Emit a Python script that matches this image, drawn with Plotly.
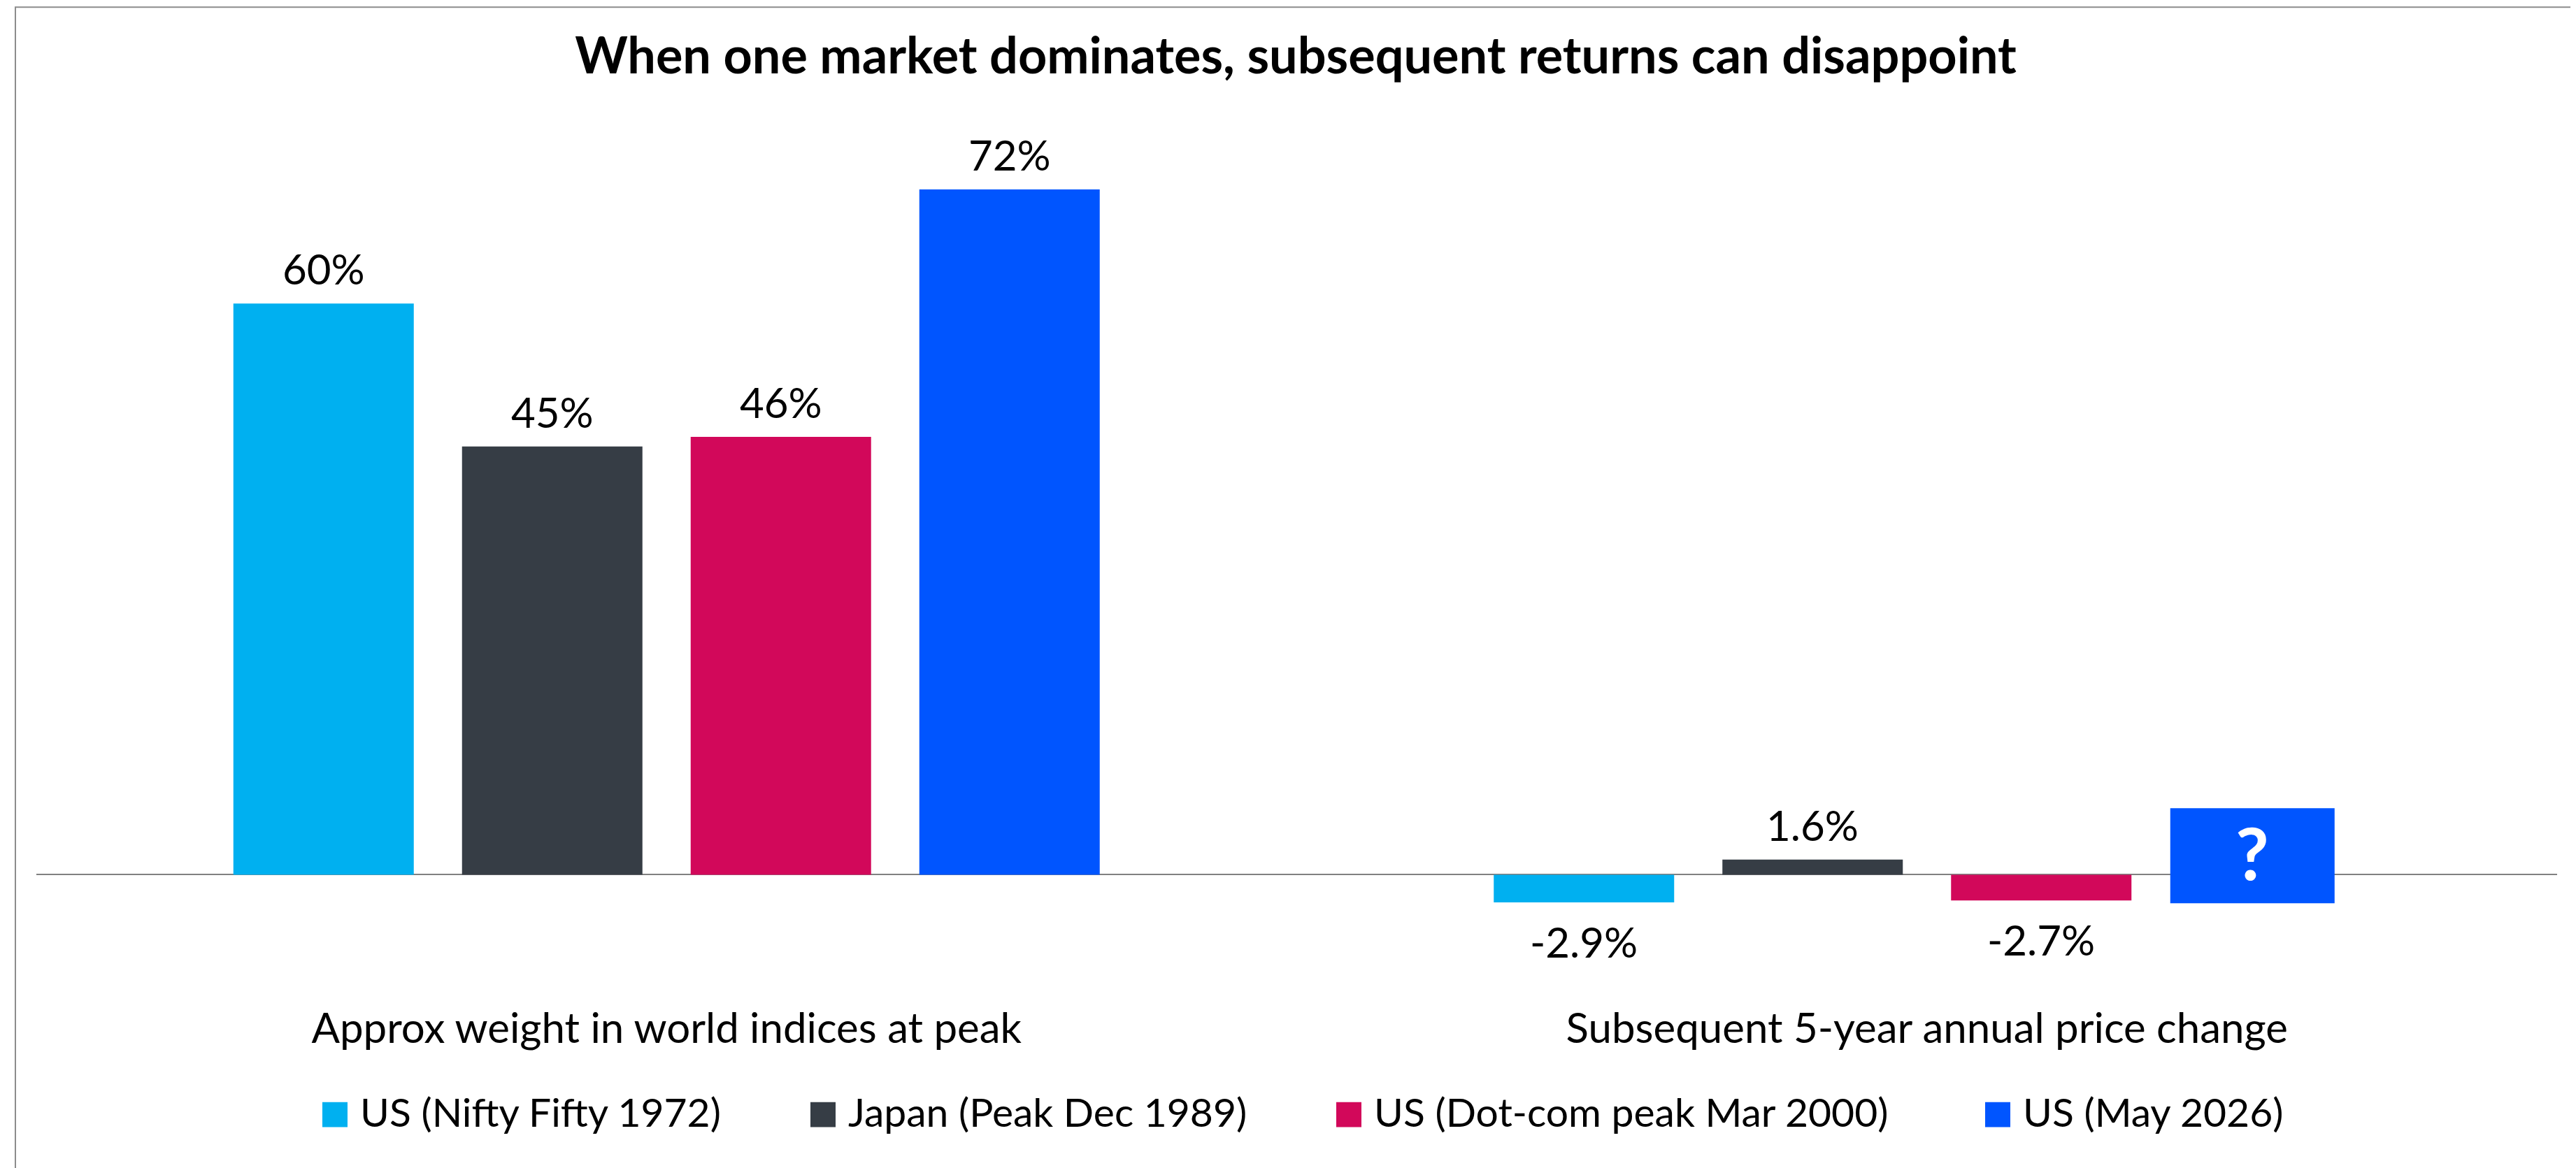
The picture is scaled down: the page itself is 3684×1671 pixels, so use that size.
import plotly.graph_objects as go

# ---- data ----
groups = ["Approx weight in world indices at peak", "Subsequent 5-year annual price change"]
series = ["US (Nifty Fifty 1972)", "Japan (Peak Dec 1989)", "US (Dot-com peak Mar 2000)", "US (May 2026)"]
colors = ["#00B0F0", "#363D45", "#D2085A", "#0055FF"]
weight_at_peak = [60, 45, 46, 72]
subsequent_change = [-2.9, 1.6, -2.7, None]
# the "?" placeholder box for the unknown US (May 2026) outcome
unknown_low = -3.0
unknown_high = 7.0

W, H = 3684, 1671
OFF = 8  # page body margin, figure starts 8px in
FONT = "Lato, 'Open Sans', sans-serif"

# plot-area geometry (page pixels)
L, R = 52, 3657
Y_MIN, Y_MAX = -12.3, 80
PX_PER_UNIT = 13.625
ZERO_PX = 1251.7
TOP = ZERO_PX - Y_MAX * PX_PER_UNIT
BOTTOM = ZERO_PX - Y_MIN * PX_PER_UNIT

slot = 327 / 1802.5
bar_w = 258 / 1802.5
q_w = 235 / 1802.5
q_center = 465.5 / 1802.5


def centre(k):
    return (k - 1.5) * slot


def px_x(x):
    return (x - L) / (R - L)


def px_y(y):
    return (BOTTOM - y) / (BOTTOM - TOP)


fig = go.Figure()
for k, name in enumerate(series):
    if subsequent_change[k] is None:
        y = [weight_at_peak[k], unknown_high - unknown_low]
        base = [0, unknown_low]
        width = [bar_w, q_w]
        offset = [centre(k) - bar_w / 2, q_center - q_w / 2]
    else:
        y = [weight_at_peak[k], subsequent_change[k]]
        base = [0, 0]
        width = [bar_w, bar_w]
        offset = [centre(k) - bar_w / 2] * 2
    fig.add_trace(go.Bar(x=groups, y=y, base=base, width=width, offset=offset,
                         name=name, marker=dict(color=colors[k], line=dict(width=0)),
                         showlegend=False, hoverinfo="skip"))

annotations = []
for k in range(len(series)):
    vals = [(0, weight_at_peak[k], f"{weight_at_peak[k]:.0f}%")]
    if subsequent_change[k] is not None:
        vals.append((1, subsequent_change[k], f"{subsequent_change[k]:.1f}%"))
    for g, v, txt in vals:
        annotations.append(dict(x=g + centre(k), y=v, xref="x", yref="y", text=txt,
                                showarrow=False, yanchor="middle",
                                yshift=50 if v >= 0 else -56,
                                font=dict(family=FONT, size=60, color="#000000")))

annotations.append(dict(x=1 + q_center, y=(unknown_low + unknown_high) / 2, xref="x", yref="y",
                        text="<b>?</b>", showarrow=False, yanchor="middle", yshift=6,
                        font=dict(family=FONT, size=104, color="#FFFFFF")))

# legend drawn by hand so the swatches match the big squares of the original
legend_x = [461, 1159, 1911, 2839]
shapes = []
for k, name in enumerate(series):
    shapes.append(dict(type="rect", xref="paper", yref="paper",
                       x0=px_x(legend_x[k]), x1=px_x(legend_x[k] + 36),
                       y0=px_y(1613), y1=px_y(1577),
                       fillcolor=colors[k], line=dict(width=0)))
    annotations.append(dict(x=px_x(legend_x[k] + 52), y=px_y(1590), xref="paper", yref="paper",
                            text=name, showarrow=False, xanchor="left", yanchor="middle",
                            font=dict(family=FONT, size=57, color="#000000")))

# outer chart frame (only top and left edges fall inside the picture)
shapes.append(dict(type="rect", xref="paper", yref="paper",
                   x0=px_x(22), x1=px_x(W + 40), y0=px_y(H + 40), y1=px_y(10),
                   line=dict(color="#8C8C8C", width=2), fillcolor="rgba(0,0,0,0)", layer="below"))

fig.update_layout(
    width=W, height=H,
    margin=dict(l=L - OFF, r=W - (R - OFF), t=TOP - OFF, b=H - (BOTTOM - OFF), pad=0),
    paper_bgcolor="white", plot_bgcolor="white",
    barmode="overlay",
    title=dict(text="<b>When one market dominates, subsequent returns can disappoint</b>",
               x=(1853 - OFF) / W, xanchor="center", y=1 - (80 - OFF) / H, yanchor="middle",
               yref="container",
               font=dict(family=FONT, size=72, color="#000000")),
    xaxis=dict(type="category", range=[-0.5, 1.5], showgrid=False, zeroline=False, showline=False,
               ticks="", ticklabelstandoff=12,
               tickfont=dict(family=FONT, size=60, color="#000000")),
    yaxis=dict(range=[Y_MIN, Y_MAX], showgrid=False, showticklabels=False, zeroline=True,
               zerolinecolor="#808080", zerolinewidth=2, showline=False, ticks=""),
    shapes=shapes,
    annotations=annotations,
    showlegend=False,
)

fig.write_html("out.html")
